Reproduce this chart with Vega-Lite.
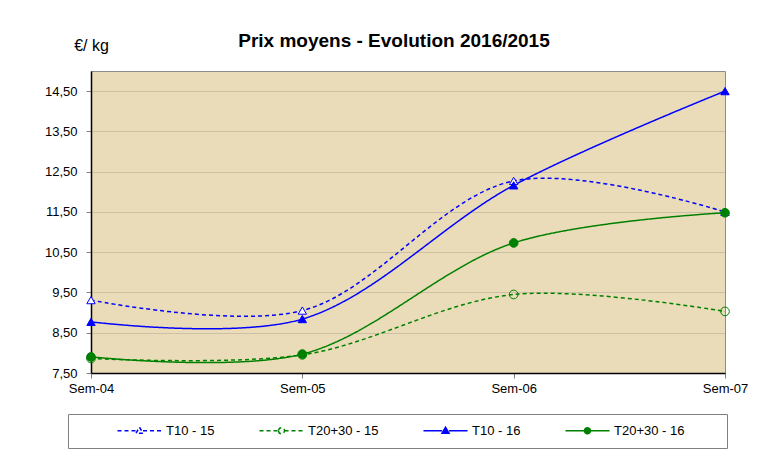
{
  "$schema": "https://vega.github.io/schema/vega-lite/v6.json",
  "width": 634,
  "height": 302,
  "autosize": "none",
  "padding": {"left": 91, "top": 71, "right": 44, "bottom": 77},
  "background": "white",
  "config": {
    "font": "Liberation Sans",
    "locale": {"number": {"decimal": ",", "thousands": ".", "grouping": [3], "currency": ["", " €"]}},
    "view": {"fill": "#EADCB8", "stroke": "#8C8C8C", "strokeWidth": 1}
  },
  "title": {
    "text": "Prix moyens - Evolution 2016/2015",
    "fontSize": 19,
    "fontWeight": "bold",
    "color": "#000000",
    "anchor": "middle",
    "dx": -14,
    "dy": 34,
    "offset": 20
  },
  "resolve": {"legend": {"color": "independent", "fill": "independent", "strokeDash": "independent", "shape": "independent"}},
  "data": {
    "values": [
      {"sem": "Sem-04", "serie": "T10 - 15", "prix": 9.31},
      {"sem": "Sem-05", "serie": "T10 - 15", "prix": 9.05},
      {"sem": "Sem-06", "serie": "T10 - 15", "prix": 12.27},
      {"sem": "Sem-07", "serie": "T10 - 15", "prix": 11.5},
      {"sem": "Sem-04", "serie": "T20+30 - 15", "prix": 7.86},
      {"sem": "Sem-05", "serie": "T20+30 - 15", "prix": 7.95},
      {"sem": "Sem-06", "serie": "T20+30 - 15", "prix": 9.45},
      {"sem": "Sem-07", "serie": "T20+30 - 15", "prix": 9.03},
      {"sem": "Sem-04", "serie": "T10 - 16", "prix": 8.77},
      {"sem": "Sem-05", "serie": "T10 - 16", "prix": 8.84},
      {"sem": "Sem-06", "serie": "T10 - 16", "prix": 12.16},
      {"sem": "Sem-07", "serie": "T10 - 16", "prix": 14.5},
      {"sem": "Sem-04", "serie": "T20+30 - 16", "prix": 7.9},
      {"sem": "Sem-05", "serie": "T20+30 - 16", "prix": 7.97},
      {"sem": "Sem-06", "serie": "T20+30 - 16", "prix": 10.73},
      {"sem": "Sem-07", "serie": "T20+30 - 16", "prix": 11.48}
    ]
  },
  "encoding": {
    "x": {
      "field": "sem",
      "type": "ordinal",
      "scale": {"type": "point", "padding": 0},
      "axis": {
        "title": null,
        "labelAngle": 0,
        "labelFontSize": 13,
        "labelColor": "#000000",
        "labelPadding": 4,
        "domainColor": "#000000",
        "domainWidth": 1.5,
        "tickColor": "#808080",
        "tickSize": 5,
        "grid": false
      }
    },
    "y": {
      "field": "prix",
      "type": "quantitative",
      "scale": {"domain": [7.5, 15], "nice": false, "zero": false},
      "axis": {
        "values": [7.5, 8.5, 9.5, 10.5, 11.5, 12.5, 13.5, 14.5],
        "format": ".2f",
        "title": "€/ kg",
        "titleAngle": 0,
        "titleFontSize": 16,
        "titleFontWeight": "normal",
        "titleColor": "#000000",
        "titleX": 0,
        "titleY": -26,
        "titleAlign": "center",
        "titleBaseline": "middle",
        "labelFontSize": 13,
        "labelColor": "#000000",
        "labelPadding": 9,
        "domainColor": "#000000",
        "domainWidth": 1.5,
        "tickColor": "#808080",
        "tickSize": 5,
        "grid": true,
        "gridColor": "#A8A08C",
        "gridOpacity": 0.45
      }
    }
  },
  "layer": [
    {
      "mark": {"type": "line", "interpolate": "catmull-rom", "strokeWidth": 1.5},
      "encoding": {
        "color": {
          "field": "serie",
          "type": "nominal",
          "scale": {"domain": ["T10 - 15", "T20+30 - 15", "T10 - 16", "T20+30 - 16"], "range": ["#0000FF", "#008000", "#0000FF", "#008000"]},
          "legend": null
        },
        "strokeDash": {
          "field": "serie",
          "type": "nominal",
          "scale": {"domain": ["T10 - 15", "T20+30 - 15", "T10 - 16", "T20+30 - 16"], "range": [[4, 3], [4, 3], [1, 0], [1, 0]]},
          "legend": null
        }
      }
    },
    {
      "transform": [{"filter": "datum.serie === 'T10 - 15' || datum.serie === 'T10 - 16'"}],
      "mark": {"type": "point", "shape": "triangle-up", "size": 70, "strokeWidth": 1, "opacity": 1},
      "encoding": {
        "color": {"field": "serie", "type": "nominal", "legend": null},
        "fill": {
          "field": "serie",
          "type": "nominal",
          "scale": {"domain": ["T10 - 15", "T20+30 - 15", "T10 - 16", "T20+30 - 16"], "range": ["#FFFFFF", "transparent", "#0000FF", "#008000"]},
          "legend": null
        }
      }
    },
    {
      "transform": [{"filter": "datum.serie === 'T20+30 - 15' || datum.serie === 'T20+30 - 16'"}],
      "mark": {"type": "point", "shape": "circle", "size": 75, "strokeWidth": 1, "opacity": 1},
      "encoding": {
        "color": {"field": "serie", "type": "nominal", "legend": null},
        "fill": {"field": "serie", "type": "nominal", "legend": null}
      }
    },
    {
      "transform": [{"filter": "false"}],
      "mark": {"type": "point", "strokeWidth": 1.5, "opacity": 1},
      "encoding": {
        "color": {
          "field": "serie",
          "type": "nominal",
          "legend": {
            "orient": "none",
            "legendX": -23,
            "legendY": 343,
            "direction": "horizontal",
            "columns": 4,
            "title": null,
            "padding": 10,
            "fillColor": "#FFFFFF",
            "strokeColor": "#808080",
            "labelFontSize": 13,
            "labelColor": "#000000",
            "labelOffset": -2,
            "symbolOffset": 77,
            "symbolSize": 100,
            "symbolStrokeWidth": 1.5,
            "columnPadding": 5,
            "labelExpr": "indexof(datum.label, '16') > 0 && indexof(datum.label, '+') > 0 ? datum.label + '\u00a0\u00a0\u00a0\u00a0\u00a0\u00a0\u00a0\u00a0\u00a0\u200b' : datum.label"
          }
        },
        "fill": {"field": "serie", "type": "nominal"},
        "strokeDash": {"field": "serie", "type": "nominal"},
        "shape": {
          "field": "serie",
          "type": "nominal",
          "scale": {
            "domain": ["T10 - 15", "T20+30 - 15", "T10 - 16", "T20+30 - 16"],
            "range": [
              "M-8.8,0H-5.1M-3.7,0H0M-4.4,-0.7L-3.7,0.5L-5.1,0.5Z",
              "M-8.8,0H-5M-3.8,0H0M-5,0A0.6,0.6 0 1,0 -3.8,0A0.6,0.6 0 1,0 -5,0Z",
              "M-8.8,0H-5.1M-3.7,0H0M-4.4,-0.7L-3.7,0.5L-5.1,0.5Z",
              "M-8.8,0H-5M-3.8,0H0M-5,0A0.6,0.6 0 1,0 -3.8,0A0.6,0.6 0 1,0 -5,0Z"
            ]
          }
        }
      }
    }
  ]
}
